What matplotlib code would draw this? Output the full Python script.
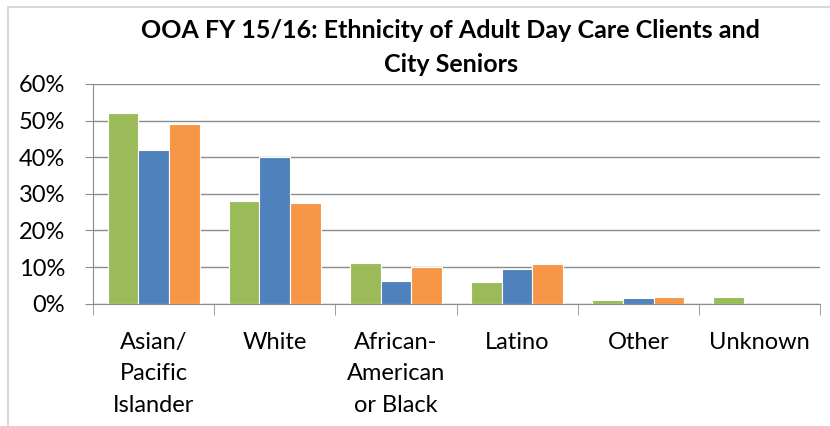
import numpy as np
import matplotlib.pyplot as plt
from matplotlib.patches import Rectangle

# Data
categories = ["Asian/\nPacific\nIslander", "White", "African-\nAmerican\nor Black",
              "Latino", "Other", "Unknown"]
adc_clients = [52, 28, 11, 5.8, 0.9, 1.9]
series_blue = [42, 40, 6.2, 9.4, 1.5, 0]
series_orange = [49, 27.5, 10, 10.8, 1.9, 0]
y_ticks = [0, 10, 20, 30, 40, 50, 60]

plt.rcParams['font.family'] = ['Lato', 'DejaVu Sans']

fig = plt.figure(figsize=(8.3, 4.26), dpi=100)
ax = fig.add_axes([0.112, 0.287, 0.876, 0.516])

x = np.arange(len(categories))
w = 0.253
ax.bar(x - w, adc_clients, w, color="#9BBB59", edgecolor="white", linewidth=0.8, zorder=3)
ax.bar(x, series_blue, w, color="#4F81BD", edgecolor="white", linewidth=0.8, zorder=3)
ax.bar(x + w, series_orange, w, color="#F79646", edgecolor="white", linewidth=0.8, zorder=3)

ax.set_xlim(-0.5, len(categories) - 0.5)
ax.set_ylim(0, 60)
ax.set_yticks(y_ticks)
ax.set_yticklabels([f"{t}%" for t in y_ticks], fontsize=17)
ax.yaxis.grid(True, color="#8C8C8C", linewidth=1)
ax.set_axisbelow(True)

ax.set_xticks(x)
ax.set_xticklabels(categories, fontsize=17, linespacing=1.62)
ax.set_xticks(np.arange(-0.5, len(categories)), minor=True)
ax.tick_params(axis="x", which="major", length=0, pad=20)
ax.tick_params(axis="x", which="minor", length=8, color="#8C8C8C")
ax.tick_params(axis="y", length=6, color="#8C8C8C", pad=14)

for s in ["top", "right"]:
    ax.spines[s].set_visible(False)
for s in ["left", "bottom"]:
    ax.spines[s].set_color("#8C8C8C")

fig.text(0.543, 0.888, "OOA FY 15/16: Ethnicity of Adult Day Care Clients and\nCity Seniors",
         ha="center", va="center", fontsize=18, fontweight="bold", linespacing=1.6)

fig.patches.append(Rectangle((0.01, -0.05), 1.2, 1.033, transform=fig.transFigure,
                             fill=False, edgecolor="#D9D9D9", linewidth=1.5))

fig.savefig("out.png", dpi=100)
